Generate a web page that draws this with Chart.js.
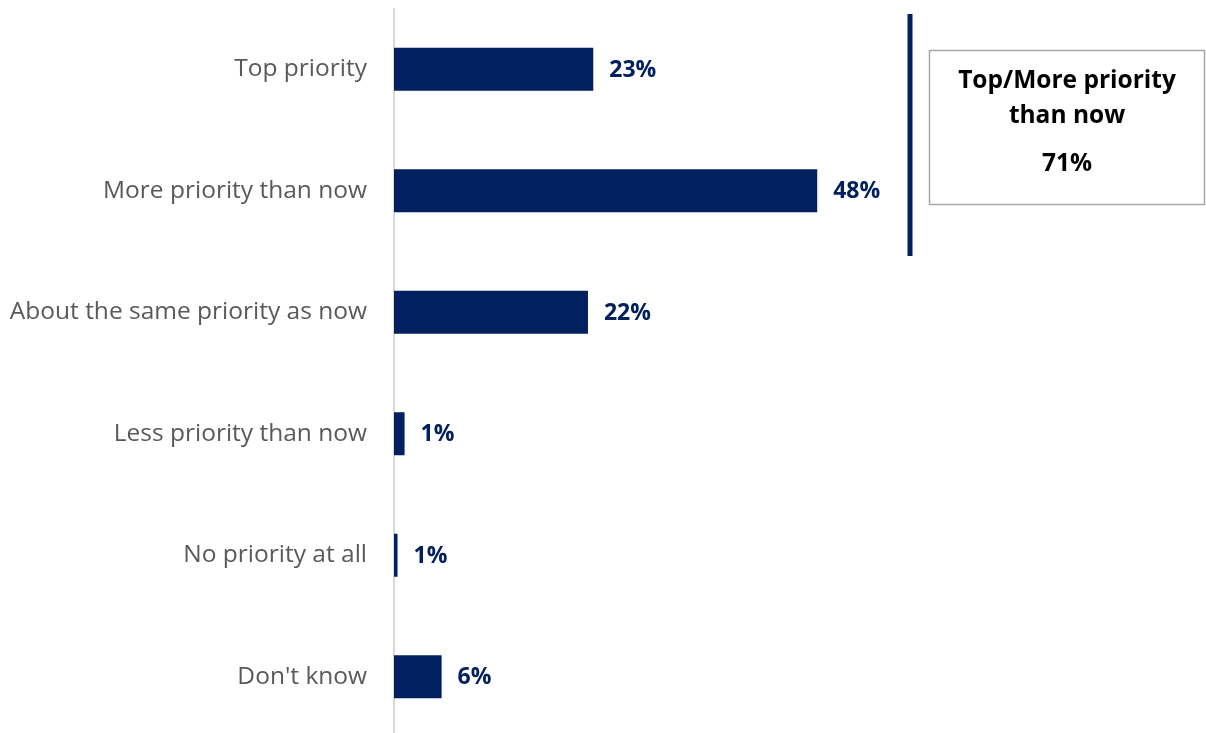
<!DOCTYPE html>
<html>
<head>
<meta charset="utf-8">
<script src="https://cdn.jsdelivr.net/npm/chart.js@4.4.1/dist/chart.umd.min.js"></script>
<style>
html,body{margin:0;padding:0;background:#fff;overflow:hidden;}
#wrap{width:1206px;height:745px;position:relative;}
</style>
</head>
<body>
<div id="wrap"><canvas id="c" width="1206" height="745"></canvas></div>
<script>
const categories = ["Top priority","More priority than now","About the same priority as now","Less priority than now","No priority at all","Don't know"];
const values = [22.6, 48.0, 22.0, 1.2, 0.4, 5.4];
const valueLabels = ["23%","48%","22%","1%","1%","6%"];
const boxTitle = ["Top/More priority","than now"];
const boxValue = "71%";

const NAVY = "#002060";
const FONT = "'Open Sans', 'Noto Sans', sans-serif";

const dataLabelPlugin = {
  id: "dataLabels",
  afterDatasetsDraw(chart) {
    const ctx = chart.ctx;
    const meta = chart.getDatasetMeta(0);
    ctx.save();
    ctx.fillStyle = NAVY;
    ctx.font = "bold 23px " + FONT;
    ctx.textBaseline = "middle";
    ctx.textAlign = "left";
    meta.data.forEach((bar, i) => {
      ctx.fillText(valueLabels[i], bar.x + 16, bar.y + 1);
    });
    ctx.restore();
  }
};

const calloutPlugin = {
  id: "callout",
  afterDraw(chart) {
    const ctx = chart.ctx;
    ctx.save();
    ctx.fillStyle = NAVY;
    ctx.fillRect(907.5, 14, 5, 242);
    ctx.strokeStyle = "#a6a6a6";
    ctx.lineWidth = 1.5;
    ctx.strokeRect(929.5, 50.5, 275, 154);
    ctx.fillStyle = "#000";
    ctx.font = "bold 24.5px " + FONT;
    ctx.textAlign = "center";
    ctx.textBaseline = "middle";
    ctx.fillText(boxTitle[0], 1067, 81);
    ctx.fillText(boxTitle[1], 1067, 116);
    ctx.fillText(boxValue, 1067, 164);
    ctx.restore();
  }
};

new Chart(document.getElementById("c"), {
  type: "bar",
  data: {
    labels: categories,
    datasets: [{
      data: values,
      backgroundColor: NAVY,
      borderWidth: 0,
      categoryPercentage: 1,
      barPercentage: 0.354
    }]
  },
  options: {
    indexAxis: "y",
    responsive: false,
    animation: false,
    devicePixelRatio: 1,
    layout: { padding: { left: 0, right: 18.5, top: 8.5, bottom: 7.5 } },
    plugins: { legend: { display: false }, tooltip: { enabled: false } },
    scales: {
      x: { display: false, min: 0, max: 90 },
      y: {
        afterFit(s) { s.width = 394; },
        grid: { display: false, drawTicks: true, tickLength: 27 },
        border: { display: true, color: "#d9d9d9", width: 2 },
        ticks: { color: "#595959", font: { family: FONT, size: 24.5, lineHeight: 0.2 }, padding: 0 }
      }
    }
  },
  plugins: [dataLabelPlugin, calloutPlugin]
});
</script>
</body>
</html>
